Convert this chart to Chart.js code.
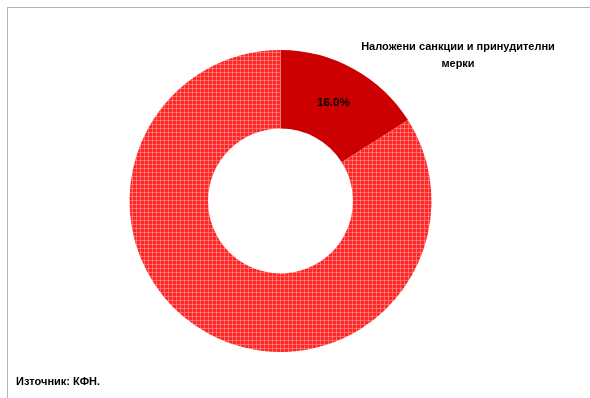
<!DOCTYPE html>
<html lang="bg">
<head>
<meta charset="UTF-8">
<title>Наложени санкции и принудителни мерки</title>
<script src="https://cdn.jsdelivr.net/npm/chart.js"></script>
<style>
  html, body { margin: 0; padding: 0; background: #fff; }
  #wrap { position: relative; width: 590px; height: 398px; overflow: hidden; }
  #frame { position: absolute; left: 7px; top: 7px; width: 700px; height: 500px;
           border-left: 1px solid #b4b4b4; border-top: 1px solid #b4b4b4; }
  #chart { position: absolute; left: 0; top: 0; }
  .txt { position: absolute; font-family: "Liberation Sans", Arial, sans-serif; font-weight: bold;
         font-size: 11px; color: #000; }
  #title { left: 348px; top: 38px; width: 220px; text-align: center; line-height: 17px; }
  #source { left: 16px; top: 375px; }
</style>
</head>
<body>
<div id="wrap">
  <div id="frame"></div>
  <canvas id="chart" width="590" height="398"></canvas>
  <div class="txt" id="title">Наложени санкции и принудителни<br>мерки</div>
  <div class="txt" id="source">Източник: КФН.</div>
</div>
<script>
  // данни
  const labels = ['Наложени санкции и принудителни мерки', 'Други'];
  const values = [16.0, 84.0];
  const shownLabels = ['16.0%', ''];

  // карирана шарка за големия сектор
  function makePattern() {
    const p = document.createElement('canvas');
    p.width = 4; p.height = 4;
    const c = p.getContext('2d');
    c.fillStyle = '#ff2626';
    c.fillRect(0, 0, 4, 4);
    c.fillStyle = 'rgba(255,160,160,0.55)';
    c.fillRect(0, 0, 1, 4);
    c.fillRect(0, 0, 4, 1);
    return document.getElementById('chart').getContext('2d').createPattern(p, 'repeat');
  }

  const sliceLabels = {
    id: 'sliceLabels',
    afterDatasetsDraw(chart) {
      const ctx = chart.ctx;
      const meta = chart.getDatasetMeta(0);
      ctx.save();
      ctx.font = 'bold 11.5px "Liberation Sans", Arial, sans-serif';
      ctx.fillStyle = '#000';
      ctx.textAlign = 'center';
      ctx.textBaseline = 'middle';
      meta.data.forEach((arc, i) => {
        if (!shownLabels[i]) return;
        const pos = arc.tooltipPosition();
        ctx.fillText(shownLabels[i], pos.x - 1, pos.y);
      });
      ctx.restore();
    }
  };

  const ctx = document.getElementById('chart').getContext('2d');
  new Chart(ctx, {
    type: 'doughnut',
    data: {
      labels: labels,
      datasets: [{
        data: values,
        backgroundColor: ['#cc0000', makePattern()],
        borderWidth: 0,
        hoverOffset: 0,
        offset: 0
      }]
    },
    options: {
      responsive: false,
      animation: false,
      cutout: '48%',
      layout: { padding: { top: 50, bottom: 46, left: 0, right: 29 } },
      plugins: {
        legend: { display: false },
        tooltip: { enabled: false }
      }
    },
    plugins: [sliceLabels]
  });
</script>
</body>
</html>
